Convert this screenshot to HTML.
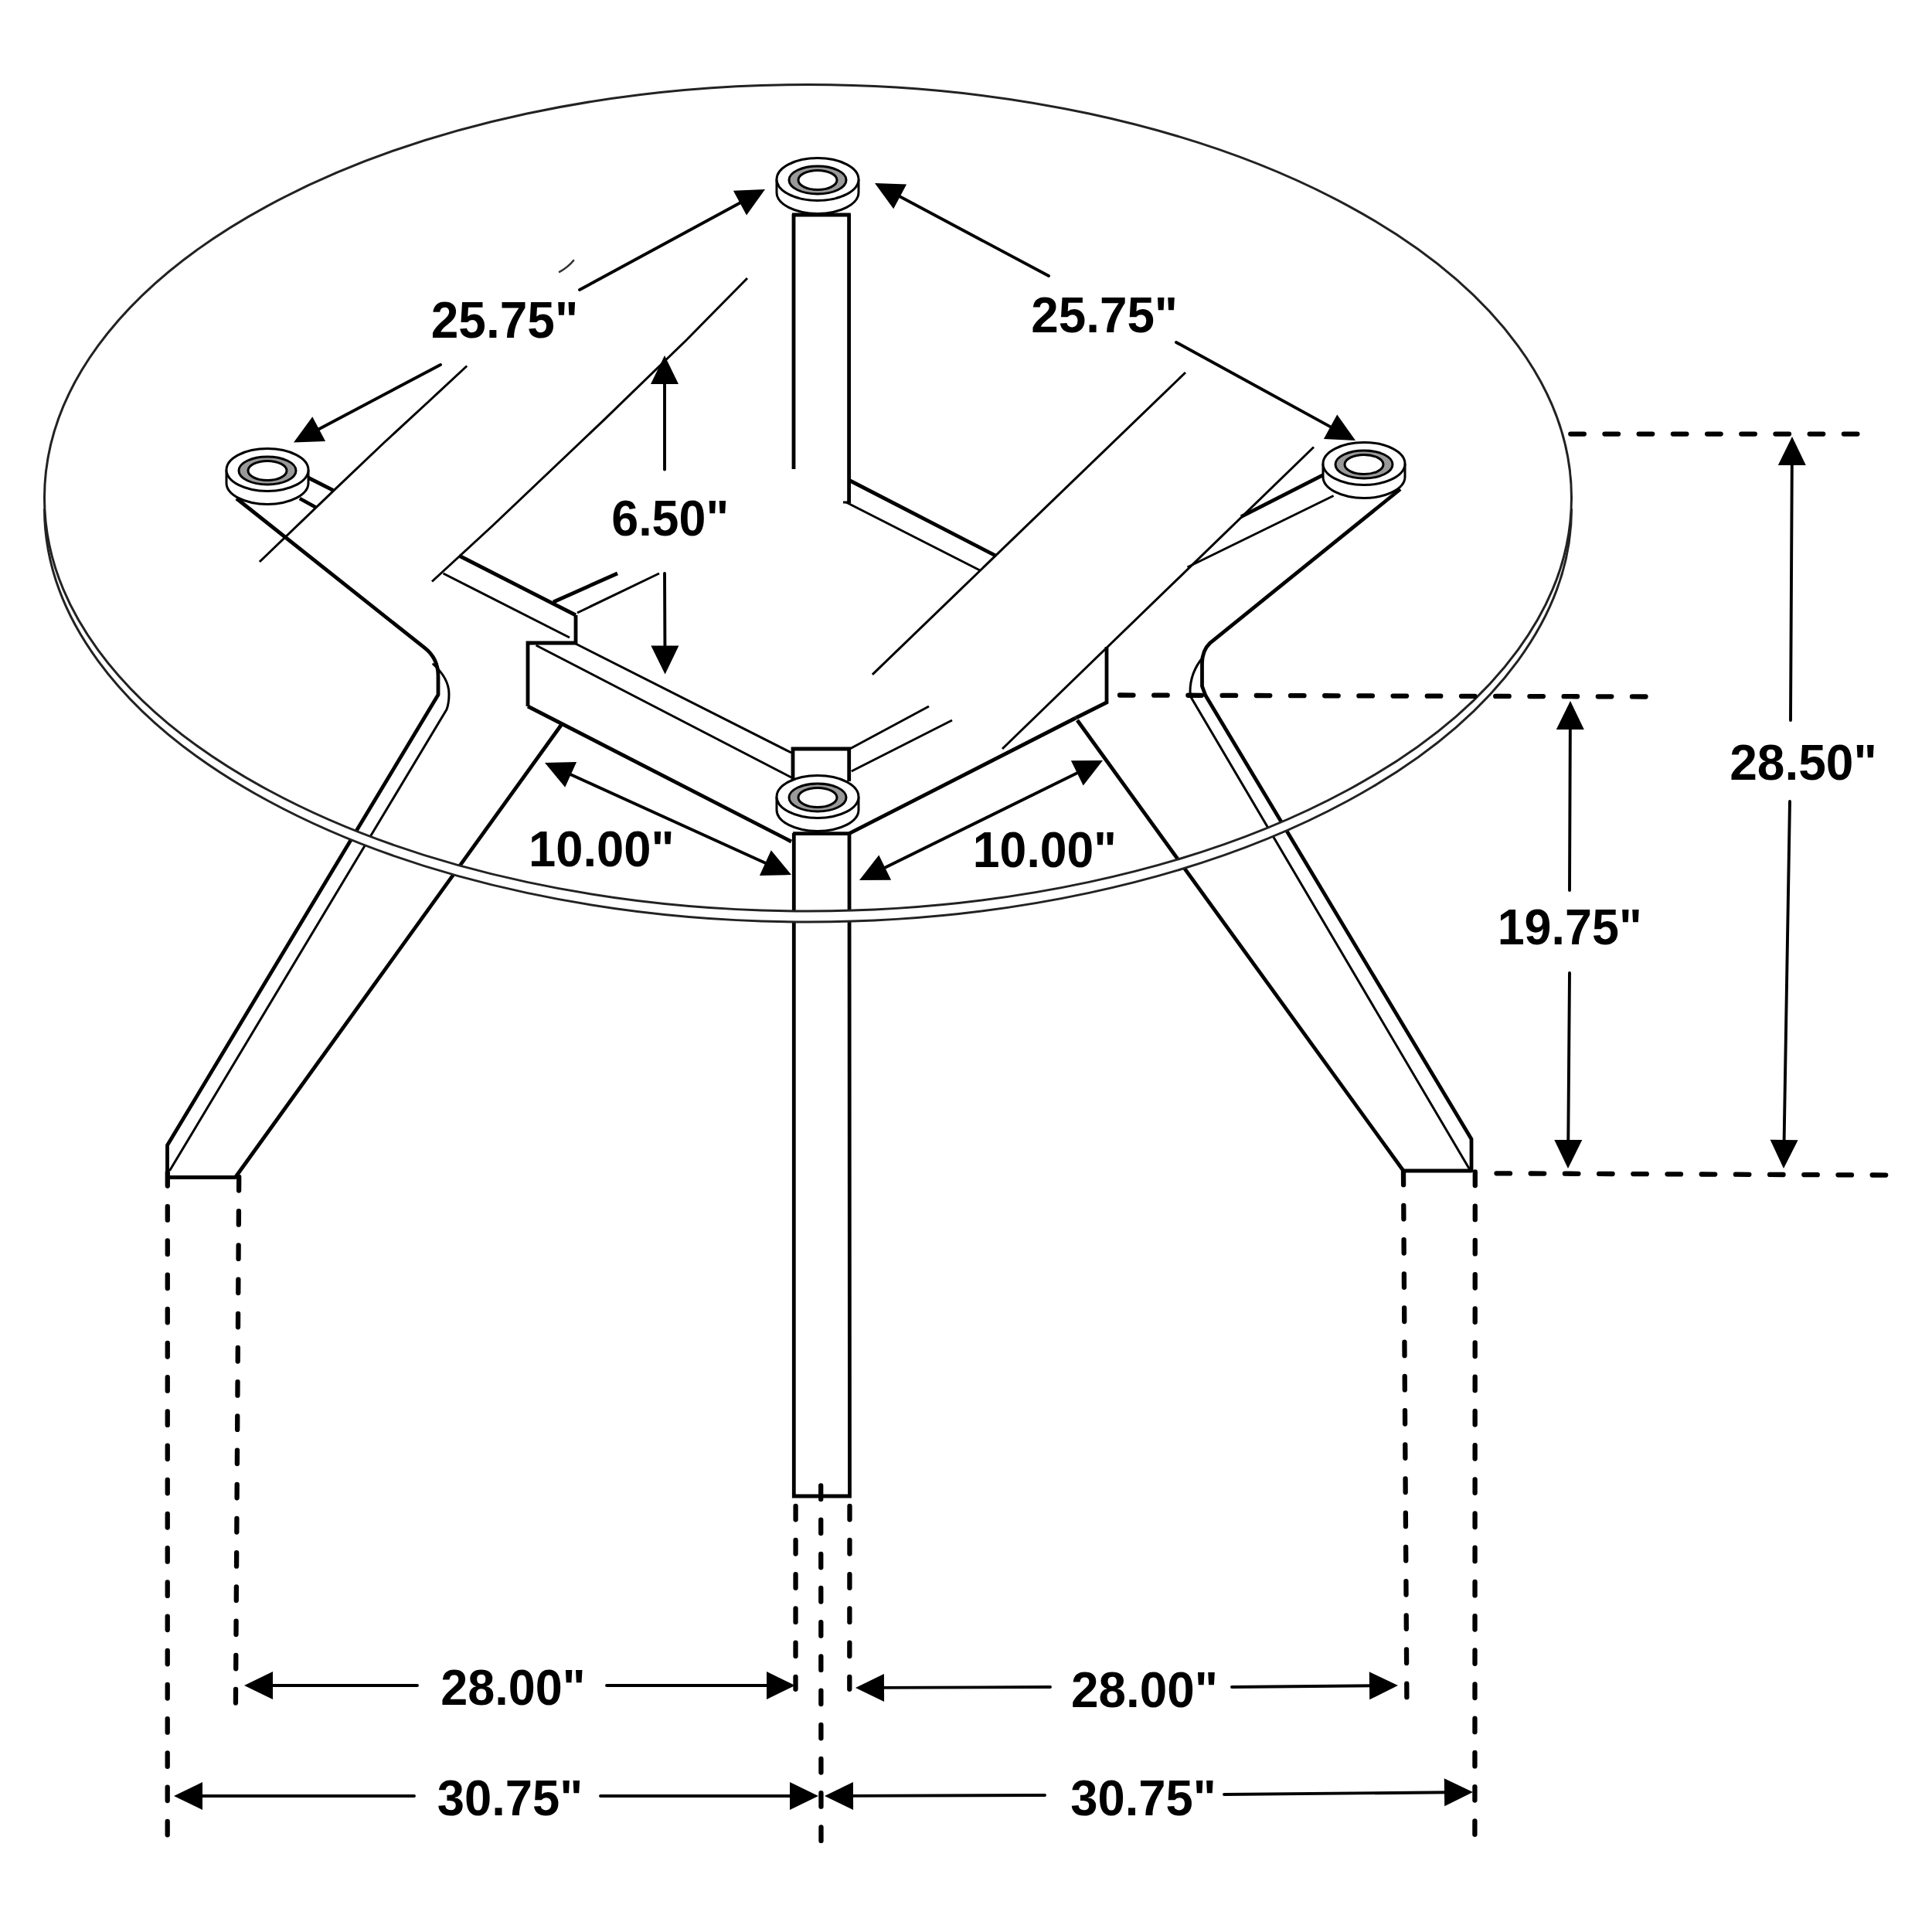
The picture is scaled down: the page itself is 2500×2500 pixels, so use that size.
<!DOCTYPE html>
<html><head><meta charset="utf-8"><style>
html,body{margin:0;padding:0;background:#fff;width:2500px;height:2500px;overflow:hidden}
svg{display:block}
text{font-family:"Liberation Sans",sans-serif;font-weight:bold;fill:#000}
</style></head><body>
<svg width="2500" height="2500" viewBox="0 0 2500 2500" stroke-linecap="butt">
<rect width="2500" height="2500" fill="#fff"/>
<line x1="1027" y1="277" x2="1027" y2="607" stroke="#000" stroke-width="4.8" />
<line x1="1098.6" y1="277" x2="1098.6" y2="651" stroke="#000" stroke-width="4.8" />
<line x1="1091" y1="650" x2="1100" y2="650" stroke="#000" stroke-width="3.0" />
<path d="M1005,232 L1005,249 A53,27.5 0 0 0 1111,249 L1111,232" fill="#fff" stroke="#000" stroke-width="3"/>
<ellipse cx="1058" cy="232" rx="53" ry="27.5" fill="#fff" stroke="#000" stroke-width="3"/>
<ellipse cx="1058" cy="233" rx="37" ry="18" fill="#999" stroke="#000" stroke-width="3"/>
<ellipse cx="1058" cy="233" rx="25" ry="12.5" fill="#fff" stroke="#000" stroke-width="3"/>
<line x1="1025" y1="278" x2="1100.8" y2="278" stroke="#000" stroke-width="4.8" />
<line x1="1100" y1="622" x2="1289" y2="719.4" stroke="#000" stroke-width="4.8" />
<line x1="1095" y1="650" x2="1268" y2="738" stroke="#000" stroke-width="3.0" />
<path d="M1026,1011 L1026,969 L1098.7,969 L1098.7,1011" fill="none" stroke="#000" stroke-width="4.8" stroke-linejoin="miter"/>
<line x1="1026" y1="1078.7" x2="1098.7" y2="1078.7" stroke="#000" stroke-width="4.8" />
<path d="M1027.3,1078 L1027.3,1936 L1099.5,1936 L1099,1078" fill="none" stroke="#000" stroke-width="4.8" stroke-linejoin="miter"/>
<path d="M1005,1031 L1005,1048 A53,27.5 0 0 0 1111,1048 L1111,1031" fill="#fff" stroke="#000" stroke-width="3"/>
<ellipse cx="1058" cy="1031" rx="53" ry="27.5" fill="#fff" stroke="#000" stroke-width="3"/>
<ellipse cx="1058" cy="1032" rx="37" ry="18" fill="#999" stroke="#000" stroke-width="3"/>
<ellipse cx="1058" cy="1032" rx="25" ry="12.5" fill="#fff" stroke="#000" stroke-width="3"/>
<line x1="683" y1="914" x2="1024" y2="1089" stroke="#000" stroke-width="4.8" />
<line x1="693.6" y1="835" x2="1024" y2="1006" stroke="#000" stroke-width="3.0" />
<line x1="745" y1="833" x2="1024" y2="974" stroke="#000" stroke-width="3.0" />
<path d="M745,796 L745,832 L683,832 L683,914" fill="none" stroke="#000" stroke-width="4.8" stroke-linejoin="miter"/>
<line x1="594" y1="719" x2="745" y2="796" stroke="#000" stroke-width="4.8" />
<line x1="573.5" y1="742" x2="737" y2="825" stroke="#000" stroke-width="3.0" />
<line x1="716" y1="779" x2="799" y2="742" stroke="#000" stroke-width="4.8" />
<line x1="747" y1="793" x2="853" y2="742" stroke="#000" stroke-width="3.0" />
<line x1="1098.7" y1="1078.7" x2="1392" y2="929" stroke="#000" stroke-width="4.8" />
<path d="M1392,929 L1432,909 L1432,837" fill="none" stroke="#000" stroke-width="4.8" stroke-linejoin="miter"/>
<line x1="1099.7" y1="969" x2="1202" y2="914" stroke="#000" stroke-width="3.0" />
<line x1="1101.8" y1="998" x2="1232" y2="932" stroke="#000" stroke-width="3.0" />
<path d="M604.2,473.5 L554.2,520 L494.1,575.5 L432.8,633.8 L335.9,727" fill="none" stroke="#000" stroke-width="3.0" stroke-linejoin="miter"/>
<path d="M742.8,336.2 Q735,346 723.1,352.3" fill="none" stroke="#333" stroke-width="2.6" stroke-linecap="butt" stroke-linejoin="round"/>
<path d="M967,360 L888.2,440 L780,544.8 L637.7,680 L559,752.5" fill="none" stroke="#000" stroke-width="3.0" stroke-linejoin="miter"/>
<line x1="1534" y1="482" x2="1128.9" y2="872.8" stroke="#000" stroke-width="3.0" />
<line x1="1700" y1="578.5" x2="1297" y2="969" stroke="#000" stroke-width="3.0" />
<line x1="398.6" y1="618" x2="431" y2="634.3" stroke="#000" stroke-width="4.8" />
<line x1="387.8" y1="645" x2="409.5" y2="657" stroke="#000" stroke-width="4.8" />
<path d="M306,645 L549.6,838.4 Q567,852 567,875 L567,899 L216.5,1482 L216.5,1523.5 L304.5,1523.5 L727,937" fill="none" stroke="#000" stroke-width="4.8" stroke-linecap="butt" stroke-linejoin="round"/>
<path d="M560.7,859.5 Q581,878 581,898 Q581,910 578,918 L220,1514" fill="none" stroke="#000" stroke-width="3.0" stroke-linecap="round" stroke-linejoin="round"/>
<path d="M293,608 L293,625 A53,27.5 0 0 0 399,625 L399,608" fill="#fff" stroke="#000" stroke-width="3"/>
<ellipse cx="346" cy="608" rx="53" ry="27.5" fill="#fff" stroke="#000" stroke-width="3"/>
<ellipse cx="346" cy="609" rx="37" ry="18" fill="#999" stroke="#000" stroke-width="3"/>
<ellipse cx="346" cy="609" rx="25" ry="12.5" fill="#fff" stroke="#000" stroke-width="3"/>
<line x1="1712.6" y1="614.3" x2="1606" y2="668.7" stroke="#000" stroke-width="4.8" />
<line x1="1725.6" y1="641.5" x2="1536.5" y2="734" stroke="#000" stroke-width="3.0" />
<path d="M1812,633 L1566,831.8 Q1555.5,842 1555.5,858 L1555.5,888 L1560,900 L1904,1474 L1904,1515 L1816,1515 L1394,932" fill="none" stroke="#000" stroke-width="4.8" stroke-linecap="butt" stroke-linejoin="round"/>
<path d="M1557,850 Q1540,870 1540,895 L1541,902 L1901,1512" fill="none" stroke="#000" stroke-width="3.0" stroke-linecap="round" stroke-linejoin="round"/>
<path d="M1712,600 L1712,617 A53,27.5 0 0 0 1818,617 L1818,600" fill="#fff" stroke="#000" stroke-width="3"/>
<ellipse cx="1765" cy="600" rx="53" ry="27.5" fill="#fff" stroke="#000" stroke-width="3"/>
<ellipse cx="1765" cy="601" rx="37" ry="18" fill="#999" stroke="#000" stroke-width="3"/>
<ellipse cx="1765" cy="601" rx="25" ry="12.5" fill="#fff" stroke="#000" stroke-width="3"/>
<path d="M57.5,644.2 A988,534.7 0 0 0 2033.5,644.2 L2033.5,658.2 A988,534.7 0 0 1 57.5,658.2 Z" fill="#fff" stroke="none"/>
<ellipse cx="1045.5" cy="644.2" rx="988" ry="534.7" fill="none" stroke="#222" stroke-width="3.0"/>
<path d="M57.5,644.2 A988,534.7 0 0 0 2033.5,644.2" transform="translate(0,14)" fill="none" stroke="#222" stroke-width="3.0"/>
<line x1="750" y1="375" x2="963.6212410038968" y2="259.28849445622257" stroke="#000" stroke-width="3.9" stroke-linecap="round"/>
<polygon points="990.0,245.0 966.0,278.4 948.9,246.8" fill="#000"/>
<line x1="570" y1="472" x2="406.51872824664764" y2="558.4729884800627" stroke="#000" stroke-width="3.9" stroke-linecap="round"/>
<polygon points="380.0,572.5 404.3,539.3 421.1,571.1" fill="#000"/>
<line x1="1357" y1="357" x2="1158.4705882352941" y2="251.11764705882354" stroke="#000" stroke-width="3.9" stroke-linecap="round"/>
<polygon points="1132.0,237.0 1173.1,238.5 1156.2,270.3" fill="#000"/>
<line x1="1522" y1="443" x2="1727.6848368189358" y2="555.5947167069174" stroke="#000" stroke-width="3.9" stroke-linecap="round"/>
<polygon points="1754.0,570.0 1712.9,568.0 1730.2,536.4" fill="#000"/>
<line x1="860" y1="607.5" x2="860.0" y2="490.0" stroke="#000" stroke-width="3.9" stroke-linecap="round"/>
<polygon points="860.0,460.0 878.0,497.0 842.0,497.0" fill="#000"/>
<line x1="860" y1="742" x2="860.4620704233463" y2="842.5003170778109" stroke="#000" stroke-width="3.9" stroke-linecap="round"/>
<polygon points="860.6,872.5 842.4,835.6 878.4,835.4" fill="#000"/>
<line x1="732.0" y1="999.3" x2="997.0" y2="1119.7" stroke="#000" stroke-width="3.9" />
<polygon points="705.0,987.0 746.1,985.9 731.2,1018.7" fill="#000"/>
<polygon points="1024.0,1132.0 982.9,1133.1 997.8,1100.3" fill="#000"/>
<line x1="1139.0" y1="1125.8" x2="1400.0" y2="997.2" stroke="#000" stroke-width="3.9" />
<polygon points="1112.0,1139.0 1137.3,1106.5 1153.1,1138.8" fill="#000"/>
<polygon points="1427.0,984.0 1401.7,1016.5 1385.9,984.2" fill="#000"/>
<line x1="2317" y1="932" x2="2318.8365146891592" y2="594.9995545392451" stroke="#000" stroke-width="3.9" stroke-linecap="round"/>
<polygon points="2319.0,565.0 2336.8,602.1 2300.8,601.9" fill="#000"/>
<line x1="2316" y1="1037" x2="2308.5051915125446" y2="1482.004253942673" stroke="#000" stroke-width="3.9" stroke-linecap="round"/>
<polygon points="2308.0,1512.0 2290.6,1474.7 2326.6,1475.3" fill="#000"/>
<line x1="2031" y1="1152" x2="2031.8775520403785" y2="936.9997501072456" stroke="#000" stroke-width="3.9" stroke-linecap="round"/>
<polygon points="2032.0,907.0 2049.8,944.1 2013.8,943.9" fill="#000"/>
<line x1="2031" y1="1259" x2="2029.2371467405198" y2="1482.000937324252" stroke="#000" stroke-width="3.9" stroke-linecap="round"/>
<polygon points="2029.0,1512.0 2011.3,1474.9 2047.3,1475.1" fill="#000"/>
<line x1="540" y1="2181" x2="346.0" y2="2181.0" stroke="#000" stroke-width="3.9" stroke-linecap="round"/>
<polygon points="316.0,2181.0 353.0,2163.0 353.0,2199.0" fill="#000"/>
<line x1="785" y1="2181" x2="999.0" y2="2181.0" stroke="#000" stroke-width="3.9" stroke-linecap="round"/>
<polygon points="1029.0,2181.0 992.0,2199.0 992.0,2163.0" fill="#000"/>
<line x1="1359" y1="2183" x2="1136.9997637971962" y2="2183.8809533182653" stroke="#000" stroke-width="3.9" stroke-linecap="round"/>
<polygon points="1107.0,2184.0 1143.9,2165.9 1144.1,2201.9" fill="#000"/>
<line x1="1594" y1="2183" x2="1779.0012979146843" y2="2181.279057693817" stroke="#000" stroke-width="3.9" stroke-linecap="round"/>
<polygon points="1809.0,2181.0 1772.2,2199.3 1771.8,2163.3" fill="#000"/>
<line x1="536" y1="2324" x2="255.0" y2="2324.0" stroke="#000" stroke-width="3.9" stroke-linecap="round"/>
<polygon points="225.0,2324.0 262.0,2306.0 262.0,2342.0" fill="#000"/>
<line x1="777" y1="2324" x2="1029.0" y2="2324.0" stroke="#000" stroke-width="3.9" stroke-linecap="round"/>
<polygon points="1059.0,2324.0 1022.0,2342.0 1022.0,2306.0" fill="#000"/>
<line x1="1352" y1="2323" x2="1096.9998153294982" y2="2323.8947374900717" stroke="#000" stroke-width="3.9" stroke-linecap="round"/>
<polygon points="1067.0,2324.0 1103.9,2305.9 1104.1,2341.9" fill="#000"/>
<line x1="1584" y1="2322" x2="1876.0013019483422" y2="2319.2794909756367" stroke="#000" stroke-width="3.9" stroke-linecap="round"/>
<polygon points="1906.0,2319.0 1869.2,2337.3 1868.8,2301.3" fill="#000"/>
<line x1="2032.3" y1="561.6" x2="2407.3" y2="561.6" stroke="#000" stroke-width="6.3" stroke-dasharray="17.5 26.7" stroke-linecap="round"/>
<line x1="1449" y1="899.5" x2="2134.5" y2="901.5" stroke="#000" stroke-width="6.3" stroke-dasharray="17.5 26.7" stroke-linecap="round"/>
<line x1="1936.5" y1="1518.3" x2="2443.4" y2="1520.6" stroke="#000" stroke-width="6.3" stroke-dasharray="17.5 26.7" stroke-linecap="round"/>
<line x1="216.8" y1="1517" x2="216.7" y2="2378" stroke="#000" stroke-width="6.3" stroke-dasharray="17.5 26.7" stroke-linecap="round"/>
<line x1="309.2" y1="1523" x2="304.9" y2="2208" stroke="#000" stroke-width="6.3" stroke-dasharray="17.5 26.7" stroke-linecap="round"/>
<line x1="1029.6" y1="1948.8" x2="1029.5" y2="2185.8" stroke="#000" stroke-width="6.3" stroke-dasharray="17.5 26.7" stroke-linecap="round"/>
<line x1="1099.5" y1="1948.8" x2="1099.3" y2="2185.8" stroke="#000" stroke-width="6.3" stroke-dasharray="17.5 26.7" stroke-linecap="round"/>
<line x1="1062.2" y1="1922.4" x2="1062.5" y2="2382.5" stroke="#000" stroke-width="6.3" stroke-dasharray="17.5 26.7" stroke-linecap="round"/>
<line x1="1816" y1="1515.7" x2="1820.4" y2="2198.8" stroke="#000" stroke-width="6.3" stroke-dasharray="17.5 26.7" stroke-linecap="round"/>
<line x1="1908.8" y1="1516.5" x2="1908.4" y2="2378.6" stroke="#000" stroke-width="6.3" stroke-dasharray="17.5 26.7" stroke-linecap="round"/>
<text x="652.0" y="437" font-size="64" text-anchor="middle" transform="matrix(1.00000,0,0,1.02889,1.000,-12.624)">25.75"</text>
<text x="1428.0" y="430" font-size="64" text-anchor="middle" transform="matrix(0.99674,0,0,1.01333,5.853,-5.333)">25.75"</text>
<text x="864.5" y="692" font-size="64" text-anchor="middle" transform="matrix(0.98054,0,0,1.01778,19.556,-11.602)">6.50"</text>
<text x="778.5" y="1122" font-size="64" text-anchor="middle" transform="matrix(0.98907,0,0,1.01333,8.208,-15.560)">10.00"</text>
<text x="1352.0" y="1122" font-size="64" text-anchor="middle" transform="matrix(0.97692,0,0,1.02667,31.100,-30.420)">10.00"</text>
<text x="2333.5" y="1009" font-size="64" text-anchor="middle" transform="matrix(1.00109,0,0,1.01333,-2.536,-13.253)">28.50"</text>
<text x="2031.0" y="1222" font-size="64" text-anchor="middle" transform="matrix(0.98297,0,0,1.02667,34.844,-32.487)">19.75"</text>
<text x="662.0" y="2206" font-size="64" text-anchor="middle" transform="matrix(0.98370,0,0,1.01556,12.777,-34.316)">28.00"</text>
<text x="1480.5" y="2209" font-size="64" text-anchor="middle" transform="matrix(0.99837,0,0,1.00222,2.863,-5.209)">28.00"</text>
<text x="658.5" y="2349" font-size="64" text-anchor="middle" transform="matrix(0.99027,0,0,1.02667,7.997,-62.440)">30.75"</text>
<text x="1478.0" y="2349" font-size="64" text-anchor="middle" transform="matrix(0.99027,0,0,1.02667,15.866,-62.440)">30.75"</text>
</svg>
</body></html>
